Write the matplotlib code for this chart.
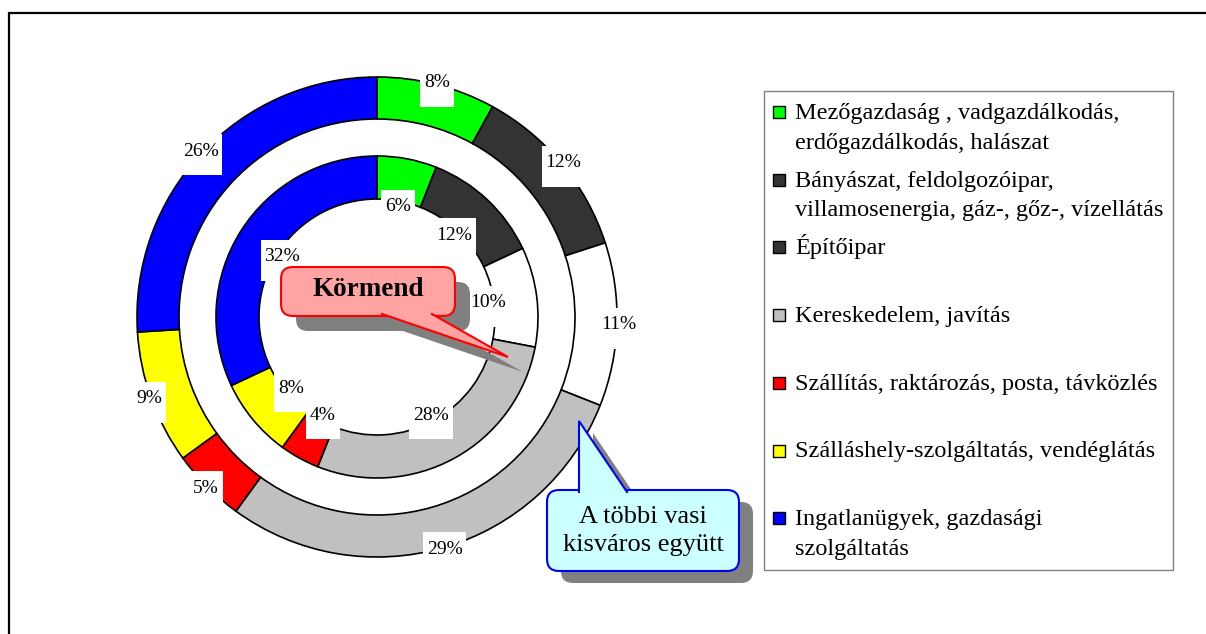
import matplotlib
matplotlib.use("Agg")
import matplotlib.pyplot as plt
from matplotlib.patches import Rectangle, FancyBboxPatch, Polygon
from matplotlib.lines import Line2D
import numpy as np

# ---------------- data ----------------
categories = [
    "Mezőgazdaság , vadgazdálkodás,\nerdőgazdálkodás, halászat",
    "Bányászat, feldolgozóipar,\nvillamosenergia, gáz-, gőz-, vízellátás",
    "Építőipar",
    "Kereskedelem, javítás",
    "Szállítás, raktározás, posta, távközlés",
    "Szálláshely-szolgáltatás, vendéglátás",
    "Ingatlanügyek, gazdasági\nszolgáltatás",
]
outer_values = [8, 12, 11, 29, 5, 9, 26]   # A többi vasi kisváros együtt
inner_values = [6, 12, 10, 28, 4, 8, 32]   # Körmend
slice_colors = ["#00FF00", "#333333", "#FFFFFF", "#C0C0C0", "#FF0000", "#FFFF00", "#0000FF"]
legend_colors = ["#00FF00", "#333333", "#333333", "#C0C0C0", "#FF0000", "#FFFF00", "#0000FF"]
inner_title = "Körmend"
outer_title = "A többi vasi\nkisváros együtt"

W, H = 1206, 634
FONT = "Liberation Serif"

fig = plt.figure(figsize=(W / 100, H / 100), dpi=100)
ax = fig.add_axes([0, 0, 1, 1])

def iy(y):  # image y (down) -> data y (up)
    return H - y

cx, cy = 377, iy(317)

wp = dict(edgecolor="black", linewidth=1.2)
outer_w, _ = ax.pie(outer_values, radius=240, center=(cx, cy), startangle=90,
                    counterclock=False, colors=slice_colors,
                    wedgeprops=dict(width=42, **wp))
inner_w, _ = ax.pie(inner_values, radius=161, center=(cx, cy), startangle=90,
                    counterclock=False, colors=slice_colors,
                    wedgeprops=dict(width=43, **wp))

ax.set_xlim(0, W)
ax.set_ylim(0, H)
ax.set_aspect("auto")
ax.axis("off")

# ---------------- percentage labels ----------------
label_texts = []
def add_labels(wedges, values, r):
    for w, v in zip(wedges, values):
        mid = np.deg2rad((w.theta1 + w.theta2) / 2)
        x = cx + r * np.cos(mid)
        y = cy + r * np.sin(mid)
        t = ax.text(x, y, f"{v}%", ha="center", va="center", family=FONT,
                    fontsize=14, color="black", zorder=6)
        label_texts.append(t)

add_labels(outer_w, outer_values, 242)
add_labels(inner_w, inner_values, 112)

fig.canvas.draw()
renderer = fig.canvas.get_renderer()
for t in label_texts:
    bb = t.get_window_extent(renderer)
    xc, yc = t.get_position()
    x0 = bb.x0 - 4
    wbox = bb.width + 8
    ax.add_patch(Rectangle((x0, yc - 24), wbox, 41, facecolor="white",
                           edgecolor="none", zorder=5))

# ---------------- callouts ----------------
def callout(box, tail, fc, ec, shadow_off, text, tx, ty, **tkw):
    x0, y0, x1, y1 = box  # image coords
    sx, sy = shadow_off
    rad = 12
    # shadow
    ax.add_patch(FancyBboxPatch((x0 + sx + rad, iy(y1 + sy) + rad),
                                (x1 - x0) - 2 * rad, (y1 - y0) - 2 * rad,
                                boxstyle=f"round,pad={rad}", facecolor="#808080",
                                edgecolor="none", zorder=7))
    ax.add_patch(Polygon([(px + sx, iy(py + sy)) for px, py in tail],
                         closed=True, facecolor="#808080", edgecolor="none", zorder=7))
    # box
    ax.add_patch(FancyBboxPatch((x0 + rad, iy(y1) + rad),
                                (x1 - x0) - 2 * rad, (y1 - y0) - 2 * rad,
                                boxstyle=f"round,pad={rad}", facecolor=fc,
                                edgecolor=ec, linewidth=1.5, zorder=8))
    ax.add_patch(Polygon([(px, iy(py)) for px, py in tail], closed=True,
                         facecolor=fc, edgecolor="none", zorder=9))
    (ax_, ay_), (bx_, by_), (tipx, tipy) = tail
    ax.add_line(Line2D([ax_, tipx, bx_], [iy(ay_), iy(tipy), iy(by_)],
                       color=ec, linewidth=1.5, zorder=10, solid_joinstyle="miter"))
    ax.text(tx, iy(ty), text, ha="center", va="center", family=FONT,
            zorder=11, **tkw)

callout((281, 267, 455, 316), [(382, 314), (432, 314), (508, 357)],
        "#FFA3A3", "#FF0000", (15, 15), inner_title, 368, 289,
        fontsize=19.5, fontweight="bold")
callout((547, 490, 739, 571), [(579, 492), (627, 492), (579, 421)],
        "#CCFFFF", "#0000FF", (14, 12), outer_title, 643, 531,
        fontsize=19, linespacing=1.4)

# ---------------- legend ----------------
ax.add_patch(Rectangle((764, iy(570)), 1173 - 764, 570 - 91, facecolor="white",
                       edgecolor="#808080", linewidth=1.0, zorder=3))
base0, step, lstep = 119, 67.7, 29.5
for i, (name, col) in enumerate(zip(categories, legend_colors)):
    b = base0 + i * step
    ax.add_patch(Rectangle((773, iy(b - 1)), 12, 12, facecolor=col,
                           edgecolor="black", linewidth=1.0, zorder=4))
    for j, line in enumerate(name.split("\n")):
        ax.text(795, iy(b + j * lstep), line, ha="left", va="baseline",
                family=FONT, fontsize=17.5, color="black", zorder=4)

# ---------------- outer frame ----------------
ax.add_line(Line2D([9, 9, W], [0, iy(13), iy(13)], color="black",
                   linewidth=1.6, zorder=12, solid_joinstyle="miter"))

fig.savefig("out.png", dpi=100)
